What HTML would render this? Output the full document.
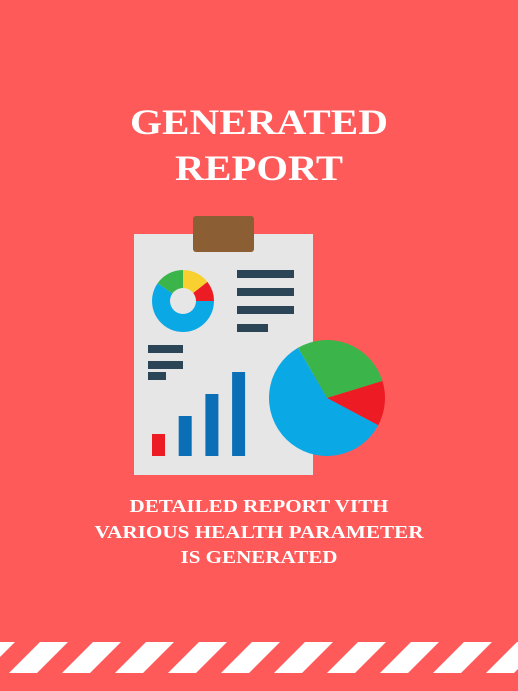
<!DOCTYPE html>
<html><head><meta charset="utf-8"><style>
html,body{margin:0;padding:0;background:#FF5A5A}
svg{display:block}
text{font-family:"Liberation Serif",serif;font-weight:bold;fill:#fff}
</style></head><body>
<svg width="518" height="691" viewBox="0 0 518 691">
<rect width="518" height="691" fill="#FF5A5A"/>
<text x="259" y="134" text-anchor="middle" font-size="36" textLength="258" lengthAdjust="spacingAndGlyphs">GENERATED</text>
<text x="259" y="180" text-anchor="middle" font-size="36" textLength="168" lengthAdjust="spacingAndGlyphs">REPORT</text>
<g>
<rect x="134" y="234" width="179" height="241" fill="#E6E6E6"/>
<rect x="193" y="216" width="61" height="36" rx="3" fill="#8B5E34"/>
<g id="donut"></g>
<g fill="#2C4556">
<rect x="237" y="270" width="57" height="8"/><rect x="237" y="288" width="57" height="8"/><rect x="237" y="306" width="57" height="8"/><rect x="237" y="324" width="31" height="8"/>
<rect x="148" y="345" width="35" height="8"/><rect x="148" y="361" width="35" height="8"/><rect x="148" y="372" width="18" height="8"/>
</g>
<g id="bars"></g>
<g id="pie"></g>
</g>
<text x="259" y="512" text-anchor="middle" font-size="18" textLength="259" lengthAdjust="spacingAndGlyphs">DETAILED REPORT VITH</text>
<text x="259" y="538" text-anchor="middle" font-size="18" textLength="329" lengthAdjust="spacingAndGlyphs">VARIOUS HEALTH PARAMETER</text>
<text x="259" y="563" text-anchor="middle" font-size="18" textLength="157" lengthAdjust="spacingAndGlyphs">IS GENERATED</text>
<g id="stripes"></g>
</svg>
<script>
const donutVals=[55,52,38,215];
const donutColors=["#3BB54A","#F8D030","#ED1C24","#0BA8E6"];
const pieVals=[103,45,212];
const pieColors=["#3BB54A","#ED1C24","#0BA8E6"];
const barVals=[22,40,62,84];
const NS="http://www.w3.org/2000/svg";
function pt(cx,cy,r,a){a=a*Math.PI/180;return [cx+r*Math.cos(a),cy+r*Math.sin(a)];}
function slice(g,cx,cy,r,a0,a1,col,name){
 const p0=pt(cx,cy,r,a0),p1=pt(cx,cy,r,a1);
 const e=document.createElementNS(NS,"path");
 e.setAttribute("d",`M${cx},${cy}L${p0[0]},${p0[1]}A${r},${r} 0 ${a1-a0>180?1:0} 1 ${p1[0]},${p1[1]}Z`);
 e.setAttribute("fill",col);
 
 
 g.appendChild(e);
}
(function(){
 const g=document.getElementById("donut");let a=-145;const tot=donutVals.reduce((s,v)=>s+v,0);
 donutVals.forEach((v,i)=>{const d=v/tot*360;slice(g,183,301,31,a,a+d,donutColors[i],"donut-segment");a+=d;});
 const c=document.createElementNS(NS,"circle");c.setAttribute("cx",183);c.setAttribute("cy",301);c.setAttribute("r",13);c.setAttribute("fill","#E6E6E6");
 
 
 g.appendChild(c);
 const p=document.getElementById("pie");a=-120;const pt2=pieVals.reduce((s,v)=>s+v,0);
 pieVals.forEach((v,i)=>{const d=v/pt2*360;slice(p,327,398,58,a,a+d,pieColors[i],"pie-slice");a+=d;});
 const b=document.getElementById("bars");const base=456;
 barVals.forEach((v,i)=>{const r=document.createElementNS(NS,"rect");r.setAttribute("x",152+i*26.7);r.setAttribute("y",base-v);r.setAttribute("width",13);r.setAttribute("height",v);r.setAttribute("fill",i==0?"#ED1C24":"#0B6FB8");
 
 
 b.appendChild(r);});
 const s=document.getElementById("stripes");
 for(let i=-1;i<11;i++){const x=9+i*53;const e=document.createElementNS(NS,"polygon");
 e.setAttribute("points",`${x},673 ${x+28},673 ${x+59},642 ${x+31},642`);e.setAttribute("fill","#fff");
 
 
 s.appendChild(e);}
})();
</script>
</body></html>
